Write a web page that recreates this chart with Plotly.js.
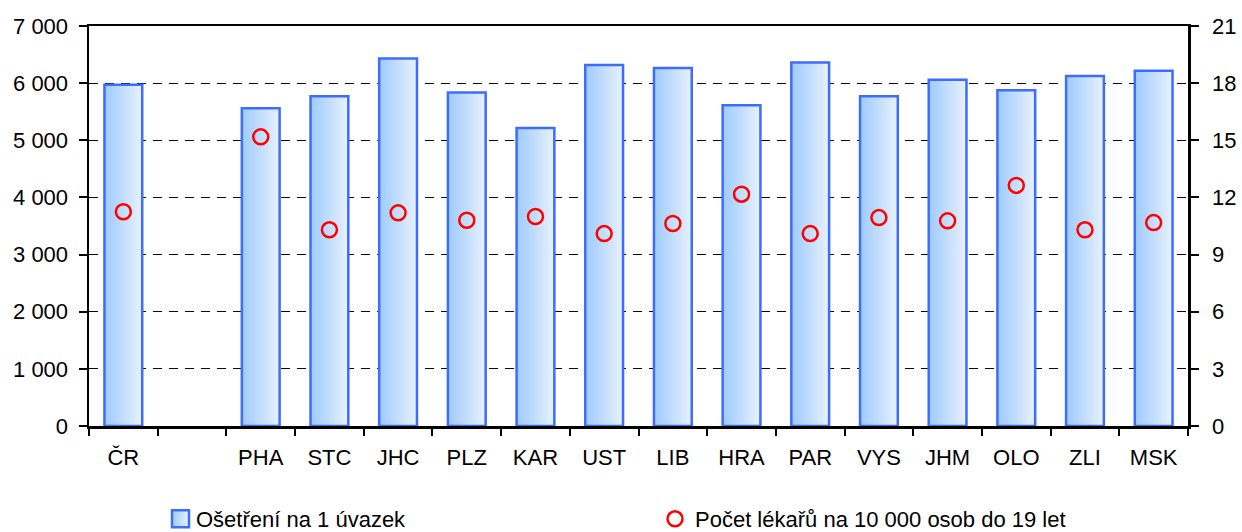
<!DOCTYPE html>
<html>
<head>
<meta charset="utf-8">
<script src="https://cdn.plot.ly/plotly-3.0.1.min.js"></script>
<style>
html,body{margin:0;padding:0;background:#fff;}
#chart{width:1242px;height:532px;}
</style>
</head>
<body>
<div id="chart"></div>
<script>
// Categories (blank slot after ČR)
const categories = ["ČR", " ", "PHA", "STC", "JHC", "PLZ", "KAR", "UST", "LIB", "HRA", "PAR", "VYS", "JHM", "OLO", "ZLI", "MSK"];
// Ošetření na 1 úvazek (left axis)
const osetreni = [5970, null, 5560, 5771, 6433, 5835, 5214, 6317, 6264, 5613, 6362, 5771, 6058, 5877, 6123, 6216];
// Počet lékařů na 10 000 osob do 19 let (right axis)
const pocetLekaru = [11.25, null, 15.18, 10.30, 11.19, 10.80, 11.00, 10.10, 10.63, 12.17, 10.10, 10.94, 10.77, 12.63, 10.30, 10.68];
const leftTicks = [0, 1000, 2000, 3000, 4000, 5000, 6000, 7000];
const rightTicks = [0, 3, 6, 9, 12, 15, 18, 21];
const seriesNames = ["Ošetření na 1 úvazek", "Počet lékařů na 10 000 osob do 19 let"];

const FONT = "Liberation Sans, Arial, sans-serif";
const FS = 22;

const traces = [
  {
    type: "bar",
    x: categories,
    y: osetreni,
    name: seriesNames[0],
    width: 0.55,
    marker: {color: "#c4defc", line: {color: "#3d6dff", width: 2.5}},
    legend: "legend",
    hoverinfo: "skip"
  },
  {
    type: "scatter",
    mode: "markers",
    x: categories,
    y: pocetLekaru,
    yaxis: "y2",
    name: seriesNames[1],
    marker: {symbol: "circle-open", size: 15, color: "#ff0000", line: {color: "#ff0000", width: 2.5}},
    legend: "legend2",
    hoverinfo: "skip"
  }
];

const layout = {
  width: 1242,
  height: 532,
  margin: {l: 89, r: 54, t: 26, b: 106},
  paper_bgcolor: "#ffffff",
  plot_bgcolor: "#ffffff",
  separators: ", ",
  font: {family: FONT, size: FS, color: "#000000"},
  showlegend: true,
  xaxis: {
    type: "category",
    categoryorder: "array",
    categoryarray: categories,
    range: [-0.5, categories.length - 0.5],
    tickson: "boundaries",
    ticks: "outside",
    ticklen: 7,
    tickwidth: 2,
    tickcolor: "#000",
    showline: true,
    linecolor: "#000",
    linewidth: 2.5,
    mirror: true,
    showgrid: false,
    zeroline: false,
    tickfont: {family: FONT, size: FS, color: "#000"},
    ticklabelstandoff: 10,
    fixedrange: true
  },
  yaxis: {
    range: [0, 7000],
    tickvals: leftTicks,
    tickformat: ",d",
    ticks: "outside",
    ticklen: 8,
    tickwidth: 2,
    tickcolor: "#000",
    showline: true,
    linecolor: "#000",
    linewidth: 2.5,
    showgrid: true,
    gridcolor: "#000",
    gridwidth: 1,
    griddash: "9px,7px",
    zeroline: false,
    tickfont: {family: FONT, size: FS, color: "#000"},
    ticklabelstandoff: 6,
    fixedrange: true
  },
  yaxis2: {
    overlaying: "y",
    side: "right",
    range: [0, 21],
    tickvals: rightTicks,
    ticks: "outside",
    ticklen: 8,
    tickwidth: 2,
    tickcolor: "#000",
    showline: true,
    linecolor: "#000",
    linewidth: 2.5,
    showgrid: false,
    zeroline: false,
    tickfont: {family: FONT, size: FS, color: "#000"},
    ticklabelstandoff: 9,
    fixedrange: true
  },
  legend: {
    xref: "container", yref: "container",
    x: 156 / 1242, y: 1 - 519 / 532,
    xanchor: "left", yanchor: "middle",
    orientation: "h",
    bgcolor: "rgba(0,0,0,0)",
    font: {family: FONT, size: FS, color: "#000"}
  },
  legend2: {
    xref: "container", yref: "container",
    x: 655 / 1242, y: 1 - 519 / 532,
    xanchor: "left", yanchor: "middle",
    orientation: "h",
    bgcolor: "rgba(0,0,0,0)",
    font: {family: FONT, size: FS, color: "#000"}
  }
};

function decorate(gd) {
  const svg = gd.querySelector("svg.main-svg");
  const ns = "http://www.w3.org/2000/svg";
  if (!document.getElementById("barGrad")) {
    let defs = svg.querySelector("defs");
    if (!defs) { defs = document.createElementNS(ns, "defs"); svg.insertBefore(defs, svg.firstChild); }
    const grad = document.createElementNS(ns, "linearGradient");
    grad.setAttribute("id", "barGrad");
    grad.setAttribute("x1", "0"); grad.setAttribute("y1", "0");
    grad.setAttribute("x2", "1"); grad.setAttribute("y2", "0");
    [["0", "#9ecbff"], ["0.5", "#c3defc"], ["1", "#e8f2ff"]].forEach(function (s) {
      const st = document.createElementNS(ns, "stop");
      st.setAttribute("offset", s[0]);
      st.setAttribute("stop-color", s[1]);
      grad.appendChild(st);
    });
    defs.appendChild(grad);
  }
  gd.querySelectorAll(".trace.bars .point path").forEach(function (p) {
    p.style.fill = "url(#barGrad)";
  });
  // Larger legend swatch for the bar series, like the reference
  gd.querySelectorAll(".legendpoints path").forEach(function (p) {
    const cls = p.getAttribute("class") || "";
    if (cls.indexOf("legendbar") >= 0 || cls.indexOf("legendundefined") >= 0 && p.getAttribute("d") === "M6,6H-6V-6H6Z") {
      p.setAttribute("d", "M13,8.5H-4V-8.5H13Z");
      p.style.fill = "url(#barGrad)";
      p.style.strokeWidth = "2.5px";
    }
  });
}

Plotly.newPlot("chart", traces, layout, {displayModeBar: false, staticPlot: true}).then(function (gd) {
  decorate(gd);
  gd.on("plotly_afterplot", function () { decorate(gd); });
  setTimeout(function () { decorate(gd); }, 50);
  setTimeout(function () { decorate(gd); }, 300);
});
</script>
</body>
</html>
